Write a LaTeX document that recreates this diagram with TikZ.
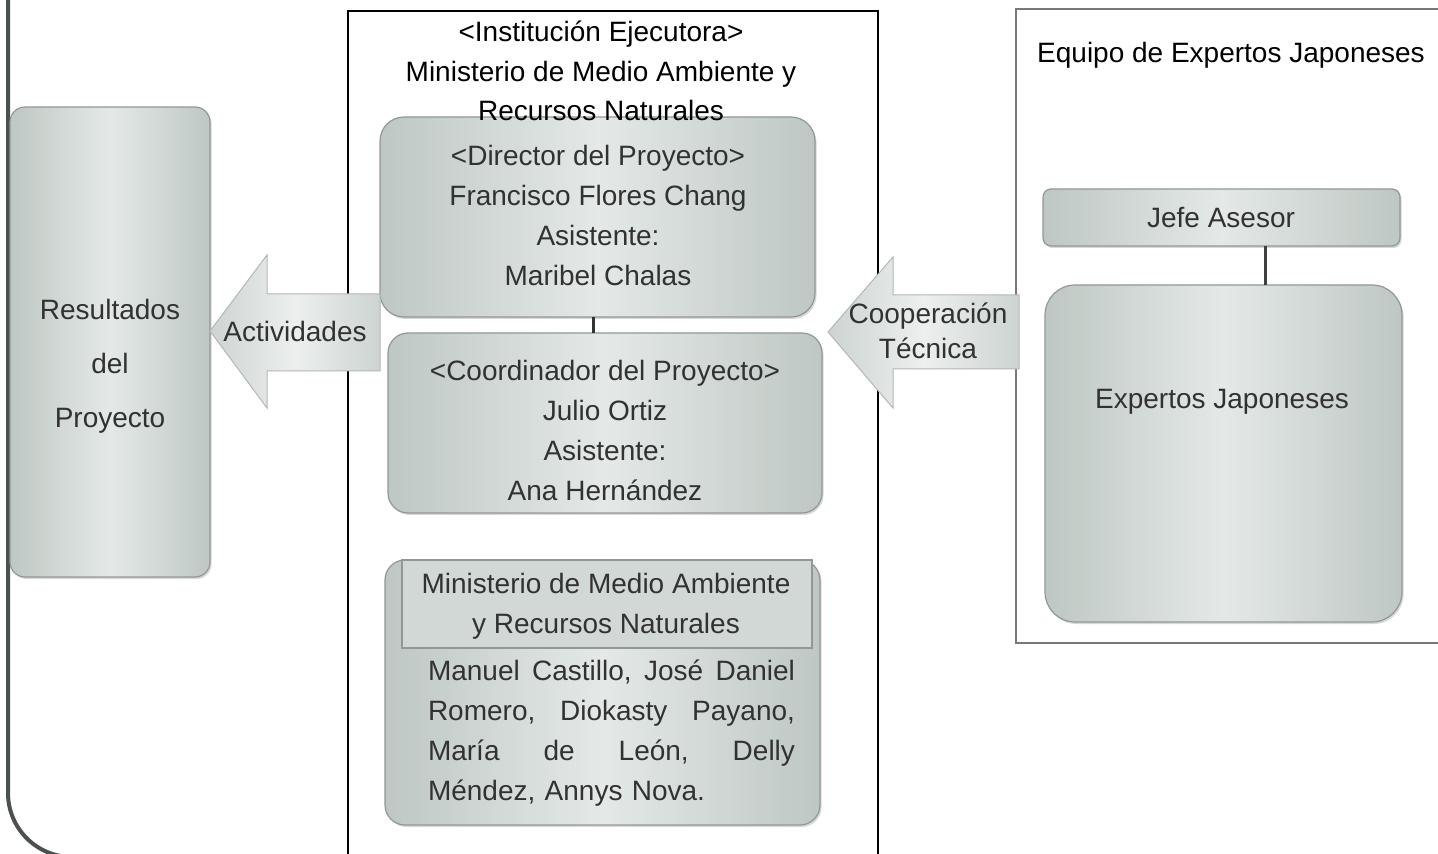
\documentclass[tikz,border=0pt]{standalone}
\usepackage{fontspec}
\setmainfont{Liberation Sans}
\usetikzlibrary{shadows}
\definecolor{boxdark}{RGB}{190,199,195}
\definecolor{boxlight}{RGB}{228,233,231}
\definecolor{boxedge}{RGB}{145,153,150}
\definecolor{arrdark}{RGB}{205,212,209}
\definecolor{arrlight}{RGB}{236,239,238}
\definecolor{txt}{RGB}{50,50,50}
\definecolor{frameleft}{RGB}{75,80,80}
\definecolor{frameright}{RGB}{120,120,120}
\newcommand{\jfill}{\hspace{0pt plus 1fil}}
\newcommand{\jline}[1]{\leavevmode\hbox to 183.5pt{#1}}
\tikzset{
  box/.style={draw=boxedge, line width=0.6pt, left color=boxdark, right color=boxdark, middle color=boxlight,
    inner sep=0pt, outer sep=0pt,
    drop shadow={shadow xshift=0.8pt, shadow yshift=-1pt, opacity=0.3}},
  btext/.style={text=txt, align=center, inner sep=0pt, font=\fontsize{14}{20}\selectfont},
  ttext/.style={text=black, align=center, inner sep=0pt, font=\fontsize{14}{19.75}\selectfont},
  blockarrow/.style={draw=boxedge!70, line width=0.5pt, left color=arrdark, right color=arrdark, middle color=arrlight},
  conn/.style={draw=black!80, line width=1.5pt}
}
\begin{document}
\begin{tikzpicture}[x=0.5pt,y=-0.5pt]
\useasboundingbox (0,0) rectangle (1438,854);
\clip (0,0) rectangle (1438,854);
\fill[white] (0,0) rectangle (1438,854);

% frames
\draw[frameleft, line width=2pt, rounded corners=32pt] (8,-20) -- (8,857) -- (300,857);
\draw[black, line width=1pt] (348,880) -- (348,11) -- (878,11) -- (878,880);
\draw[frameright, line width=0.8pt] (1450,9) -- (1016,9) -- (1016,643) -- (1450,643);

% boxes
\node[box, rounded corners=7.5pt, minimum width=100pt, minimum height=235pt] (res) at (110,342) {};
\node[box, rounded corners=12pt, minimum width=217.5pt, minimum height=100pt] (dir) at (597.5,217) {};
\node[box, rounded corners=10pt, minimum width=217pt, minimum height=90pt] (coord) at (605,423) {};
\node[box, rounded corners=10pt, minimum width=217.5pt, minimum height=132.5pt] (min) at (602.5,692.5) {};
\node[draw=boxedge, line width=0.6pt, fill=boxdark!50!boxlight, inner sep=0pt, minimum width=205pt, minimum height=44pt] (minhead) at (607,604) {};
\node[box, rounded corners=4pt, minimum width=178.5pt, minimum height=28.5pt] (jefe) at (1221.5,217.5) {};
\node[box, rounded corners=15pt, minimum width=178.5pt, minimum height=168.5pt] (exp) at (1223.5,453.5) {};

% connectors
\draw[conn] ([xshift=-2.25pt]dir.south) -- ([xshift=-2.25pt]dir.south |- coord.north);
\draw[conn, draw=black!75] ([xshift=21.75pt]jefe.south) -- ([xshift=21.75pt]jefe.south |- exp.north);

% block arrows
\draw[blockarrow] (210,331) -- (267,255) -- (267,294) -- (380,294) -- (380,371) -- (267,371) -- (267,408) -- cycle;
\draw[blockarrow] (828,332) -- (893,257) -- (893,295) -- (1019,295) -- (1019,369) -- (893,369) -- (893,408) -- cycle;

% texts
\node[ttext] (titmid) at (601,71) {<Institución Ejecutora>\\Ministerio de Medio Ambiente y\\Recursos Naturales};
\node[ttext] (titright) at (1231,55) {Equipo de Expertos Japoneses};
\node[btext, font=\fontsize{14}{27}\selectfont] (restext) at (110,366) {Resultados\\del\\Proyecto};
\node[btext] (acttext) at (295,331) {Actividades};
\node[btext, font=\fontsize{14}{17.5}\selectfont] (cooptext) at (928,331) {Cooperación\\Técnica};
\node[btext] (dirtext) at (598,215) {<Director del Proyecto>\\Francisco Flores Chang\\Asistente:\\Maribel Chalas};
\node[btext] (coordtext) at (605,430) {<Coordinador del Proyecto>\\Julio Ortiz\\Asistente:\\Ana Hernández};
\node[btext] (minheadtext) at (606,606) {Ministerio de Medio Ambiente\\y Recursos Naturales};
\node[btext, align=left, text width=183.5pt] (mintext) at (611.5,733) {%
\jline{Manuel\jfill\ Castillo,\jfill\ José\jfill\ Daniel}\\
\jline{Romero,\jfill\ Diokasty\jfill\ Payano,}\\
\jline{María\jfill\ de\jfill\ León,\jfill\ Delly}\\
Méndez, Annys Nova.};
\node[btext] (jefetext) at (1221,218) {Jefe Asesor};
\node[btext] (exptext) at (1222,402) {Expertos Japoneses};
\end{tikzpicture}
\end{document}
